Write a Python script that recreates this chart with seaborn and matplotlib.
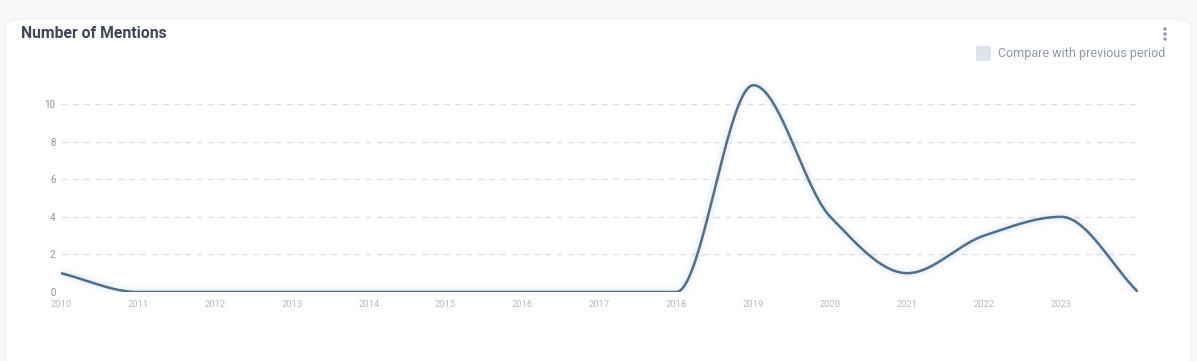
import numpy as np
import pandas as pd
import matplotlib
matplotlib.use("Agg")
import matplotlib.pyplot as plt
import seaborn as sns
from matplotlib.patches import FancyBboxPatch, Ellipse

years = [2010, 2011, 2012, 2013, 2014, 2015, 2016, 2017, 2018, 2019, 2020, 2021, 2022, 2023, 2024]
mentions = [1, 0, 0, 0, 0, 0, 0, 0, 0, 11, 4, 1, 3, 4, 0]
year_labels = [str(y) for y in years[:-1]]
y_ticks = [0, 2, 4, 6, 8, 10]

LINE = "#4c7090"


def monotone_smooth(x, y, n=40):
    """Fritsch-Carlson monotone cubic, only used to render the smooth line."""
    x = np.asarray(x, float)
    y = np.asarray(y, float)
    h = np.diff(x)
    d = np.diff(y) / h
    m = np.zeros_like(y)
    m[0], m[-1] = d[0], d[-1]
    for i in range(1, len(y) - 1):
        if d[i - 1] * d[i] > 0:
            w1 = 2 * h[i] + h[i - 1]
            w2 = h[i] + 2 * h[i - 1]
            m[i] = (w1 + w2) / (w1 / d[i - 1] + w2 / d[i])
    xs, ys = [], []
    for i in range(len(h)):
        t = np.linspace(0, 1, n, endpoint=False)
        h00 = 2 * t**3 - 3 * t**2 + 1
        h10 = t**3 - 2 * t**2 + t
        h01 = -2 * t**3 + 3 * t**2
        h11 = t**3 - t**2
        xs.append(x[i] + t * h[i])
        ys.append(h00 * y[i] + h10 * h[i] * m[i] + h01 * y[i + 1] + h11 * h[i] * m[i + 1])
    xs.append([x[-1]])
    ys.append([y[-1]])
    return np.concatenate(xs), np.concatenate(ys)


sns.set_theme(style="white")
plt.rcParams["font.family"] = ["Roboto", "DejaVu Sans"]

W, H = 1197, 361
fig = plt.figure(figsize=(W / 100, H / 100), dpi=100)
fig.patch.set_facecolor("#f6f7f9")

# white card
card = FancyBboxPatch((6 / W, -0.1), 1185 / W, (H - 19) / H + 0.1,
                      boxstyle="round,pad=0,rounding_size=0.02",
                      transform=fig.transFigure, facecolor="white",
                      edgecolor="#eef0f3", linewidth=0.8, zorder=-10)
fig.patches.append(card)

fig.text(21 / W, 1 - 34 / H, "Number of Mentions", fontsize=11.3, fontweight="bold",
         color="#3d4556", va="center", ha="left")

# legend checkbox + label
fig.patches.append(FancyBboxPatch((976 / W, 1 - 61 / H), 15 / W, 15 / H,
                                  boxstyle="round,pad=0,rounding_size=0.003",
                                  transform=fig.transFigure, facecolor="#dde3ee",
                                  edgecolor="none"))
fig.text(998 / W, 1 - 53.5 / H, "Compare with previous period", fontsize=9,
         color="#8e98a6", va="center", ha="left")

# kebab menu dots
for yy in (29, 34, 39):
    fig.patches.append(Ellipse((1165 / W, 1 - yy / H), 3.5 / W, 3.5 / H,
                               transform=fig.transFigure,
                               facecolor="#8a9bb5", edgecolor="none"))

# axes: x 2010 -> 61px, 2024 -> 1138px ; y 0 -> 292px, 10 -> 104px
px_per_unit = (292 - 104) / 10
ymax = 12
ax_top = 292 - ymax * px_per_unit
ax = fig.add_axes([61 / W, 1 - 292 / H, (1138 - 61) / W, (292 - ax_top) / H])
ax.set_facecolor("none")
ax.set_zorder(5)

sx, sy = monotone_smooth(years, mentions)
smooth = pd.DataFrame({"year": sx, "value": sy})

# soft glow under the line
for lw, a in [(10, 0.035), (7, 0.045), (4.5, 0.06)]:
    ax.plot(sx, sy, color="#9db6d3", lw=lw, alpha=a, solid_capstyle="round", zorder=2)
sns.lineplot(data=smooth, x="year", y="value", ax=ax, color=LINE, linewidth=1.8,
             zorder=3, estimator=None, sort=False)

ax.set_xlim(years[0], years[-1])
ax.set_ylim(0, ymax)
ax.set_yticks(y_ticks)
ax.set_yticklabels([str(v) for v in y_ticks])
ax.set_xticks(years[:-1])
ax.set_xticklabels(year_labels)
for v in y_ticks:
    ax.axhline(v, xmin=0, xmax=0.9975, color="#dcdfe5", lw=0.9, ls=(0, (5, 4)), zorder=1)

ax.tick_params(axis="y", length=0, pad=4, labelsize=7, labelcolor="#8a93a1")
ax.tick_params(axis="x", length=0, pad=6, labelsize=6.8, labelcolor="#b7bcc4")
ax.set_xlabel("")
ax.set_ylabel("")
for s in ax.spines.values():
    s.set_visible(False)
ax.grid(False)

fig.savefig("out.png", dpi=100, facecolor=fig.get_facecolor())
